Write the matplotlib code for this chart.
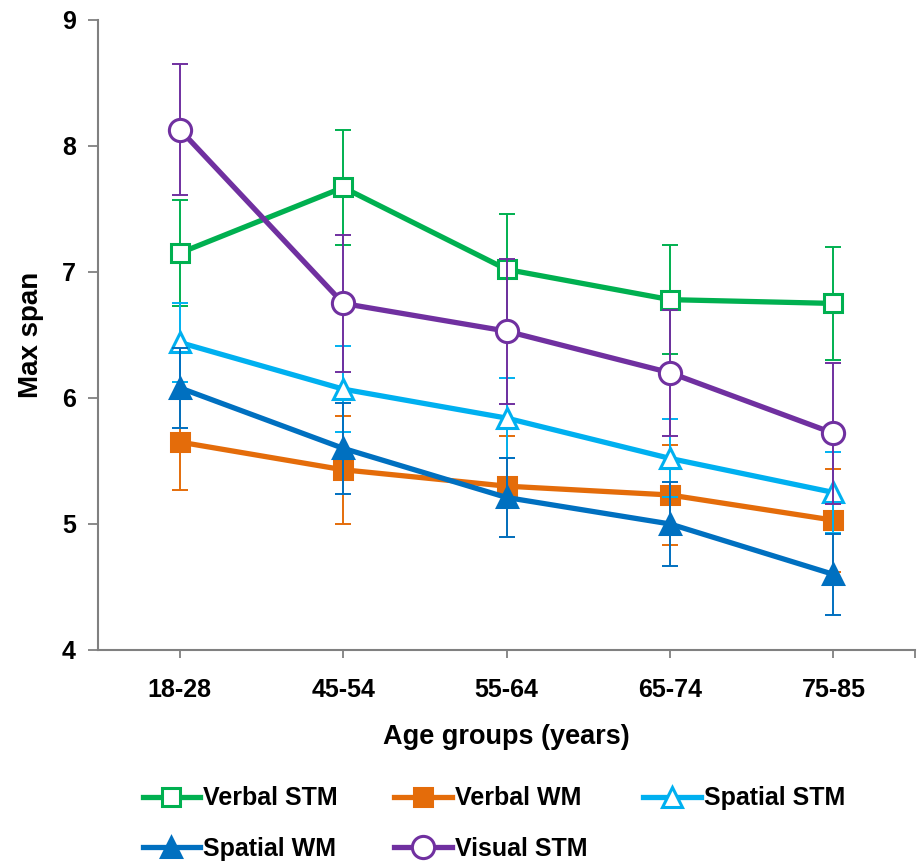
import matplotlib
matplotlib.use("Agg")
import matplotlib.pyplot as plt
import numpy as np
from matplotlib.ticker import FixedLocator

categories = ["18-28", "45-54", "55-64", "65-74", "75-85"]

verbal_stm = [7.15, 7.67, 7.02, 6.78, 6.75]
verbal_stm_err = [0.42, 0.46, 0.44, 0.43, 0.45]
verbal_wm = [5.65, 5.43, 5.30, 5.23, 5.03]
verbal_wm_err = [0.38, 0.43, 0.40, 0.40, 0.41]
spatial_stm = [6.44, 6.07, 5.84, 5.52, 5.25]
spatial_stm_err = [0.31, 0.34, 0.32, 0.31, 0.32]
spatial_wm = [6.08, 5.60, 5.21, 5.00, 4.60]
spatial_wm_err = [0.32, 0.36, 0.31, 0.33, 0.32]
visual_stm = [8.13, 6.75, 6.53, 6.20, 5.72]
visual_stm_err = [0.52, 0.545, 0.575, 0.50, 0.56]

series_names = ["Verbal STM", "Verbal WM", "Spatial STM", "Spatial WM", "Visual STM"]
colors = ["#00B050", "#E46C0A", "#00B0F0", "#0070C0", "#7030A0"]
markers = ["s", "s", "^", "^", "o"]
filled = [False, True, False, True, False]
msizes = [13, 13, 15, 15, 16]

fam = ['Liberation Sans', 'DejaVu Sans']
plt.rcParams['font.family'] = fam
plt.rcParams['font.weight'] = 'bold'

fig = plt.figure(figsize=(9.17, 8.64), dpi=100)
ax = fig.add_axes([0.107, 0.2477, 0.891, 0.7293])

x = np.arange(len(categories))
data = [verbal_stm, verbal_wm, spatial_stm, spatial_wm, visual_stm]
errs = [verbal_stm_err, verbal_wm_err, spatial_stm_err, spatial_wm_err, visual_stm_err]

handles = []
for i, (y, e, c, m, f, n, ms) in enumerate(zip(data, errs, colors, markers, filled,
                                                series_names, msizes)):
    ax.errorbar(x, y, yerr=e, fmt='none', ecolor=c, elinewidth=1.4, capsize=6,
                capthick=1.4, zorder=2 + i)
    h, = ax.plot(x, y, color=c, lw=3.8, marker=m, markersize=ms,
                 markerfacecolor=(c if f else 'white'), markeredgecolor=c,
                 markeredgewidth=2.2, label=n, zorder=3 + i)
    handles.append(h)

ax.set_xlim(-0.5, 4.5)
ax.set_ylim(4, 9)
ax.set_yticks([4, 5, 6, 7, 8, 9])
ax.set_xticks(x)
ax.set_xticklabels(categories)
ax.xaxis.set_minor_locator(FixedLocator([4.5]))
ax.tick_params(axis='x', which='both', direction='out', length=6, width=1.3, color='#808080',
               labelsize=18, pad=14)
ax.tick_params(axis='y', direction='out', length=7, width=1.3, color='#808080',
               labelsize=18, pad=9)
for lab in ax.get_xticklabels() + ax.get_yticklabels():
    lab.set_fontweight('bold')

for s in ['top', 'right']:
    ax.spines[s].set_visible(False)
for s in ['left', 'bottom']:
    ax.spines[s].set_color('#808080')
    ax.spines[s].set_linewidth(1.5)

ax.set_ylabel("Max span", fontsize=20, fontweight='bold', labelpad=13)
ax.set_xlabel("Age groups (years)", fontsize=19.5, fontweight='bold', labelpad=16)

order = [0, 3, 1, 4, 2]
leg = fig.legend(handles=[handles[k] for k in order], loc='lower left',
                 bbox_to_anchor=(0.131, -0.022),
                 ncol=3, frameon=False, handlelength=2.3,
                 handletextpad=0.12, columnspacing=2.25, labelspacing=1.05,
                 prop={'weight': 'bold', 'size': 18, 'family': fam})

fig.savefig("out.png", dpi=100)
